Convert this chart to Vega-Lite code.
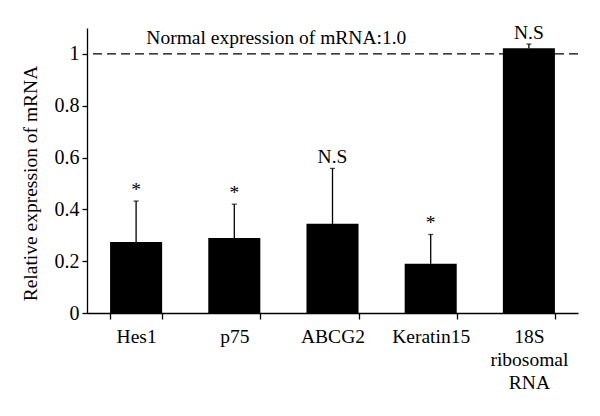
{
  "$schema": "https://vega.github.io/schema/vega-lite/v6.json",
  "width": 491,
  "height": 285,
  "autosize": {"type": "none"},
  "padding": {"left": 87, "top": 28, "right": 22, "bottom": 103},
  "config": {
    "view": {"stroke": null},
    "font": "Liberation Serif",
    "axis": {"domainColor": "black", "tickColor": "black", "labelColor": "black", "titleColor": "black", "domainWidth": 1.3, "tickWidth": 1.3, "grid": false}
  },
  "data": {
    "values": [
      {"gene": "Hes1", "value": 0.274, "upper": 0.432, "sig": "*"},
      {"gene": "p75", "value": 0.289, "upper": 0.42, "sig": "*"},
      {"gene": "ABCG2", "value": 0.344, "upper": 0.558, "sig": "N.S"},
      {"gene": "Keratin15", "value": 0.19, "upper": 0.303, "sig": "*"},
      {"gene": "18S ribosomal RNA", "value": 1.022, "upper": 1.038, "sig": "N.S"}
    ]
  },
  "encoding": {
    "x": {
      "field": "gene", "type": "nominal", "sort": null,
      "scale": {"domain": ["Hes1", "p75", "ABCG2", "Keratin15", "18S ribosomal RNA"], "paddingInner": 0.47, "paddingOuter": 0.235},
      "axis": {
        "title": null, "labelAngle": 0, "tickBand": "extent", "tickSize": 6,
        "labelFontSize": 19.5, "labelPadding": 8, "labelLineHeight": 23,
        "labelExpr": "datum.value == '18S ribosomal RNA' ? ['18S','ribosomal','RNA'] : datum.label"
      }
    }
  },
  "layer": [
    {
      "data": {"values": [{"ref": 1, "note": "Normal expression of mRNA:1.0"}]},
      "mark": {"type": "rule", "strokeDash": [9, 5], "strokeWidth": 1.3, "color": "black"},
      "encoding": {"x": null, "y": {"field": "ref", "type": "quantitative"}}
    },
    {
      "data": {"values": [{"ref": 1, "note": "Normal expression of mRNA:1.0"}]},
      "mark": {"type": "text", "fontSize": 19.5, "dx": 42, "dy": -10, "color": "black", "align": "center", "baseline": "alphabetic"},
      "encoding": {"x": {"datum": "p75"}, "y": {"field": "ref", "type": "quantitative"}, "text": {"field": "note"}}
    },
    {
      "mark": {"type": "bar", "color": "black"},
      "encoding": {
        "y": {
          "field": "value", "type": "quantitative",
          "scale": {"domain": [0, 1.1], "nice": false},
          "axis": {
            "title": "Relative expression of mRNA", "titleFontSize": 19.5, "titleFontWeight": "normal",
            "titleX": -47, "titleY": 155,
            "values": [0, 0.2, 0.4, 0.6, 0.8, 1], "format": ".1~f",
            "labelFontSize": 20, "tickSize": 5, "labelPadding": 3
          }
        }
      }
    },
    {
      "mark": {"type": "rule", "color": "black", "strokeWidth": 1.3},
      "encoding": {"y": {"field": "value", "type": "quantitative"}, "y2": {"field": "upper"}}
    },
    {
      "mark": {"type": "tick", "color": "black", "thickness": 1.3, "size": 5},
      "encoding": {"y": {"field": "upper", "type": "quantitative"}}
    },
    {
      "mark": {"type": "text", "fontSize": 19.5, "dy": -5, "baseline": "alphabetic", "color": "black"},
      "encoding": {"y": {"field": "upper", "type": "quantitative"}, "text": {"field": "sig"}}
    }
  ]
}
